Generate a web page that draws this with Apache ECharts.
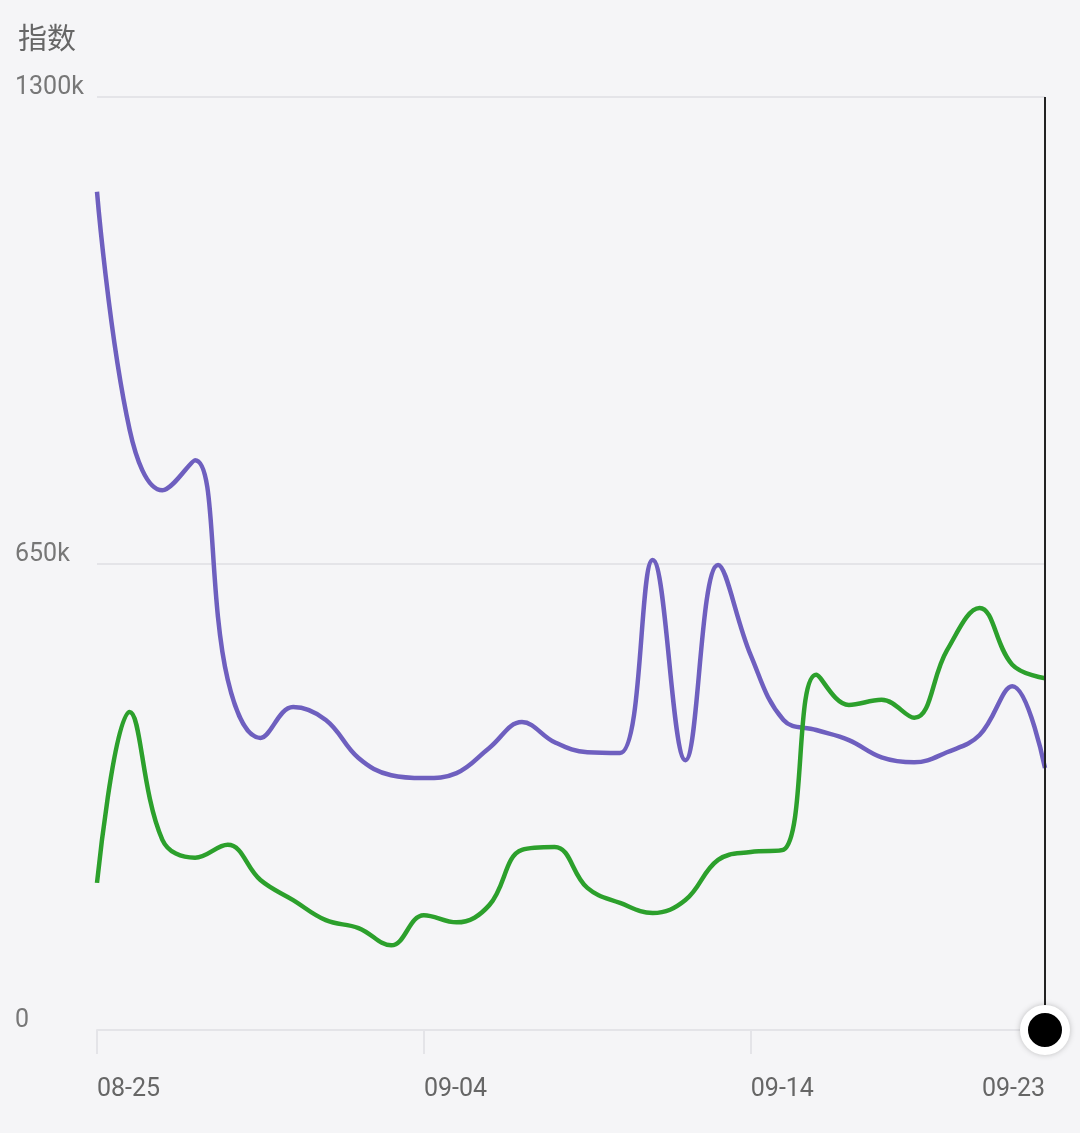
<!DOCTYPE html>
<html>
<head>
<meta charset="utf-8">
<script src="https://cdn.jsdelivr.net/npm/echarts@6/dist/echarts.min.js"></script>
<style>html,body{margin:0;background:#f5f5f7}#c{width:1080px;height:1133px}</style>
</head>
<body>
<div id="c"></div>
<script>
const dates = [];
for (let i = 0; i < 30; i++) {
    const d = new Date(2020, 7, 25 + i);
    dates.push(String(d.getMonth() + 1).padStart(2, '0') + '-' + String(d.getDate()).padStart(2, '0'));
}
const labelDays = ['08-25', '09-04', '09-14', '09-23'];
const purple = [1168, 836, 752, 794, 488, 407, 450, 432, 379, 355, 351, 358, 393, 429, 401, 387, 386, 655, 376, 648, 522, 432, 418, 404, 380, 373, 387, 411, 479, 365];
const green = [205, 443, 265, 240, 258, 209, 181, 153, 142, 118, 160, 150, 174, 251, 255, 198, 177, 163, 181, 237, 248, 251, 495, 453, 460, 435, 529, 588, 509, 490];

const chart = echarts.init(document.getElementById('c'));
chart.setOption({
    backgroundColor: '#f5f5f7',
    animation: false,
    title: { text: '指数', left: 13, top: 18, textStyle: { color: '#666', fontSize: 29, fontWeight: 'normal', fontFamily: 'Noto Sans CJK SC' } },
    grid: { left: 97, right: 35, top: 97, bottom: 103, outerBoundsMode: 'none', containLabel: false },
    xAxis: {
        type: 'category', data: dates, boundaryGap: false,
        axisLine: { lineStyle: { color: '#e4e4e8', width: 2 } },
        axisTick: { show: true, length: 24, interval: (i, v) => labelDays.includes(v), lineStyle: { color: '#e4e4e8', width: 2 } },
        axisLabel: {
            interval: (i, v) => labelDays.includes(v), color: '#666', fontSize: 25, margin: 47,
            align: 'left', alignMaxLabel: 'right', fontFamily: 'Roboto'
        }
    },
    yAxis: {
        type: 'value', min: 0, max: 1300, interval: 650,
        axisLine: { show: false }, axisTick: { show: false },
        splitLine: { lineStyle: { color: '#e4e4e8', width: 2 } },
        axisLabel: { color: '#777', fontSize: 25, align: 'left', margin: 82, verticalAlign: 'bottom', lineHeight: 18, fontFamily: 'Roboto', formatter: v => v === 0 ? '0' : v + 'k' }
    },
    series: [
        {
            type: 'line', data: purple, smooth: 0.4, showSymbol: false,
            lineStyle: { color: '#6e5fbf', width: 4.5 },
            markLine: {
                silent: true, symbol: 'none', label: { show: false },
                lineStyle: { color: '#222', width: 2, type: 'solid' },
                data: [[{ coord: ['09-23', 1300] }, { coord: ['09-23', 0] }]]
            },
            markPoint: {
                symbol: 'circle', symbolSize: 42, label: { show: false },
                itemStyle: { color: '#000', borderColor: '#fff', borderWidth: 8, shadowBlur: 6, shadowColor: 'rgba(0,0,0,0.2)' },
                data: [{ coord: ['09-23', 0] }]
            }
        },
        {
            type: 'line', data: green, smooth: 0.4, showSymbol: false,
            lineStyle: { color: '#2ca02c', width: 4.5 }
        }
    ]
});
</script>
</body>
</html>
